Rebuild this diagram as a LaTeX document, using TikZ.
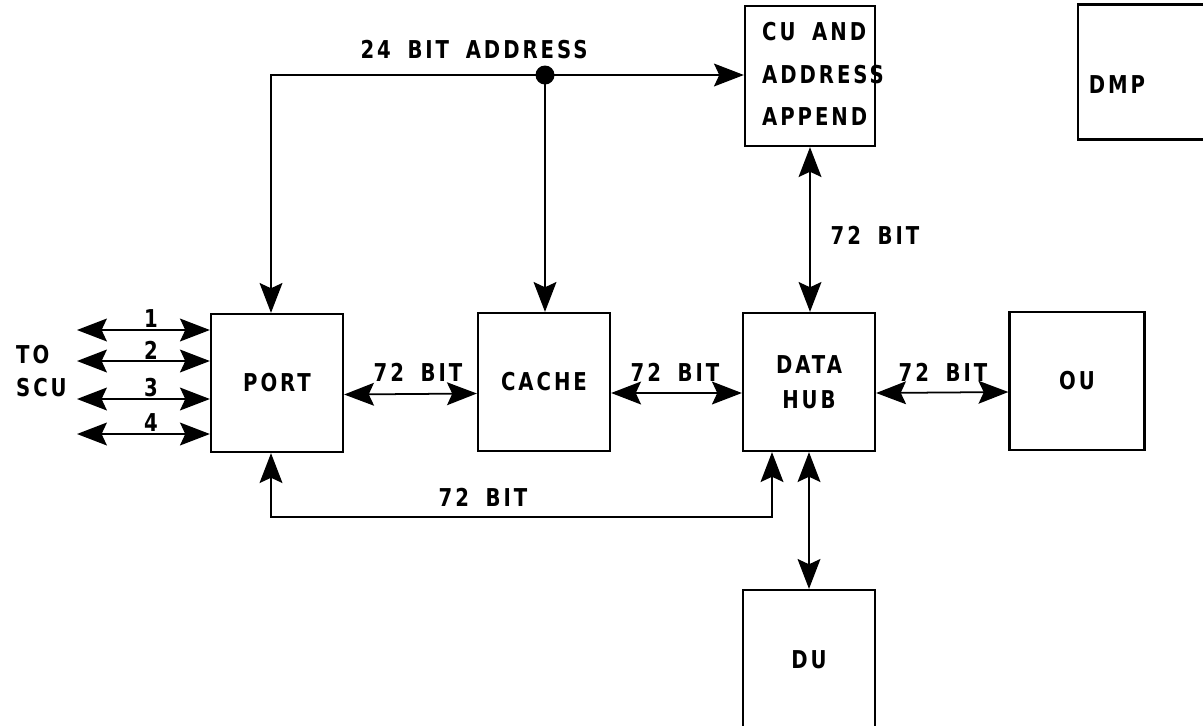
\documentclass[tikz,border=0pt]{standalone}
\usepackage{fontspec}
\setmainfont[LetterSpace=12, FakeStretch=0.8, WordSpace=1.7]{DejaVu Sans}
\usetikzlibrary{arrows.meta, positioning, calc}

\tikzset{
  blk/.style={draw, line width=1.3pt, minimum width=2.64cm, minimum height=2.76cm, inner sep=0pt},
  bus/.style={line width=1pt, {Stealth[length=17pt,width=13pt,inset=3pt]}-{Stealth[length=17pt,width=13pt,inset=3pt]}},
  one/.style={line width=1pt, -{Stealth[length=17pt,width=13pt,inset=3pt]}},
}

\begin{document}
\begin{tikzpicture}[x=0.02cm, y=-0.02cm, every node/.style={font=\fontsize{14}{20}\selectfont\bfseries}]
      \useasboundingbox (0,0) rectangle (1203,725);

      \node[blk] (port) at (277,383) {PORT};
      \node[blk] (cache) at (544,382) {CACHE};
      \node[blk, align=center] (hub) at (809,382) {DATA\\HUB};
      \node[blk, minimum width=2.7cm] (ou) at (1077,381) {OU};
      \node[blk, minimum height=2.8cm] (du) at (809,660) {DU};

      \node[blk, minimum width=2.6cm, minimum height=2.8cm] (cu) at (810,76) {};
      \node[align=left, font=\fontsize{14}{24}\selectfont\bfseries] (cutext) at (823,74) {CU AND\\ADDRESS\\APPEND};

      \node[blk, minimum width=4cm, minimum height=2.7cm] (dmp) at (1178,72) {};
      \node (dmptext) at (1117,85) {DMP};

      \coordinate (addr) at (271,75);
      \coordinate (tap) at (545,75);
      \coordinate (lowl) at (271,517);
      \coordinate (lowr) at (772,517);

      \draw[bus] (port.north -| addr) -- (addr) -- (cu.west |- addr);
      \draw[one] (tap) -- (cache.north -| tap);
      \fill (tap) circle (0.19cm);
      \node (addrlbl) at (474,50) {24 BIT ADDRESS};

      \draw[bus] ([yshift=-0.23cm]port.east) -- ([yshift=-0.23cm]cache.west);
      \draw[bus] ([yshift=-0.22cm]cache.east) -- ([yshift=-0.22cm]hub.west);
      \draw[bus] ([yshift=-0.22cm]hub.east) -- ([yshift=-0.22cm]ou.west);
      \node (bpc) at (418,372) {72 BIT};
      \node (bch) at (675,372) {72 BIT};
      \node (bho) at (943,372) {72 BIT};

      \draw[bus] (cu.south) -- (cu.south |- hub.north);
      \node (bcu) at (875,235) {72 BIT};
      \draw[bus] (hub.south) -- (du.north);

      \draw[bus] (port.south -| lowl) -- (lowl) -- (lowr) -- (hub.south -| lowr);
      \node (blow) at (483,497) {72 BIT};

      \foreach \y/\n in {330/1, 361/2, 399/3, 434/4} {
        \coordinate (scu\n) at (77,\y);
        \draw[bus] (scu\n) -- (port.west |- scu\n);
        \node (num\n) at (151,\y-11) {\n};
      }
      \node[anchor=west] (to) at (10,355) {TO};
      \node[anchor=west] (scu) at (10,388) {SCU};

    \end{tikzpicture}
\end{document}
